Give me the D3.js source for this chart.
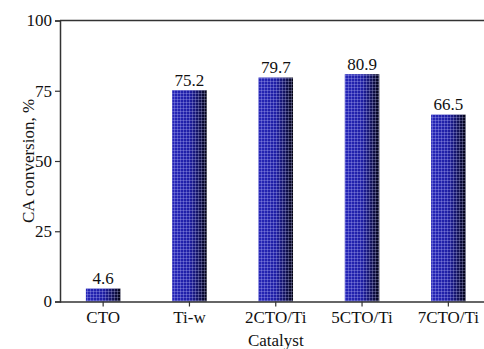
<!DOCTYPE html>
<html>
<head>
<meta charset="utf-8">
<script src="https://cdn.jsdelivr.net/npm/d3@7"></script>
<style>
  html, body { margin: 0; padding: 0; background: #fff; }
  svg { display: block; }
  svg text { font-family: "Liberation Serif", "Times New Roman", Times, "DejaVu Serif", serif !important; fill: #111; }
</style>
</head>
<body>
<script>
// Catalyst CA conversion data
const catalysts = ["CTO", "Ti-w", "2CTO/Ti", "5CTO/Ti", "7CTO/Ti"];
const conversion = [4.6, 75.2, 79.7, 80.9, 66.5];
const yTicks = [0, 25, 50, 75, 100];

const W = 484, H = 349;
const margin = { left: 60, top: 20.5, bottom: 301.5 };

const svg = d3.select("body").append("svg")
  .attr("width", W).attr("height", H);

const x = d3.scaleBand()
  .domain(catalysts)
  .range([margin.left, margin.left + 431.5])
  .paddingInner(0.6)
  .paddingOuter(0.3);

const y = d3.scaleLinear()
  .domain([0, 100])
  .range([margin.bottom, margin.top]);

// Bar fill: blue fading to near-black at the right edge, with a fine light grid
const defs = svg.append("defs");
const grad = defs.append("linearGradient")
  .attr("id", "barGrad").attr("x1", "0").attr("x2", "1").attr("y1", "0").attr("y2", "0");
grad.append("stop").attr("offset", "0").attr("stop-color", "#2626b8");
grad.append("stop").attr("offset", "0.5").attr("stop-color", "#1e1ea4");
grad.append("stop").attr("offset", "0.78").attr("stop-color", "#121258");
grad.append("stop").attr("offset", "1").attr("stop-color", "#030312");

const pat = defs.append("pattern")
  .attr("id", "gridPat").attr("patternUnits", "userSpaceOnUse")
  .attr("width", 3).attr("height", 3);
pat.append("path")
  .attr("d", "M0,0.5H3M0.5,0V3")
  .attr("stroke", "#c8c8ff").attr("stroke-opacity", 0.4).attr("stroke-width", 0.7)
  .attr("fill", "none");

const bars = svg.append("g");
bars.selectAll("rect.fill")
  .data(catalysts)
  .join("rect")
  .attr("class", "fill")
  .attr("x", d => x(d))
  .attr("y", (d, i) => y(conversion[i]))
  .attr("width", x.bandwidth())
  .attr("height", (d, i) => y(0) - y(conversion[i]))
  .attr("fill", "url(#barGrad)");
bars.selectAll("rect.grid")
  .data(catalysts)
  .join("rect")
  .attr("class", "grid")
  .attr("x", d => x(d))
  .attr("y", (d, i) => y(conversion[i]))
  .attr("width", x.bandwidth())
  .attr("height", (d, i) => y(0) - y(conversion[i]))
  .attr("fill", "url(#gridPat)");

// Value labels
svg.append("g").selectAll("text")
  .data(catalysts)
  .join("text")
  .attr("x", d => x(d) + x.bandwidth() / 2)
  .attr("y", (d, i) => y(conversion[i]) - 4.5)
  .attr("text-anchor", "middle")
  .attr("font-size", 17)
  .text((d, i) => conversion[i].toFixed(1));

// Axes
const yAxis = svg.append("g")
  .attr("transform", `translate(${margin.left},0)`)
  .call(d3.axisLeft(y).tickValues(yTicks).tickSize(5).tickPadding(3));
yAxis.selectAll("text").attr("font-size", 17);

const xAxis = svg.append("g")
  .attr("transform", `translate(0,${margin.bottom})`)
  .call(d3.axisBottom(x).tickSize(5).tickPadding(4).tickSizeOuter(0));
xAxis.selectAll("text").attr("font-size", 17);
xAxis.select(".domain").attr("d", `M${margin.left},0.5H${W}`);

[yAxis, xAxis].forEach(a => {
  a.attr("font-family", null);
  a.selectAll("line").attr("stroke", "#333").attr("stroke-width", 1.2);
  a.select(".domain").attr("stroke", "#333").attr("stroke-width", 1.5);
});

// Top frame line
svg.append("line")
  .attr("x1", margin.left).attr("x2", W)
  .attr("y1", margin.top).attr("y2", margin.top)
  .attr("stroke", "#333").attr("stroke-width", 1.5);

// Axis titles
svg.append("text")
  .attr("transform", `translate(34,${(margin.top + margin.bottom) / 2}) rotate(-90)`)
  .attr("text-anchor", "middle")
  .attr("font-size", 17)
  .text("CA conversion, %");

svg.append("text")
  .attr("x", x("2CTO/Ti") + x.bandwidth() / 2)
  .attr("y", 346)
  .attr("text-anchor", "middle")
  .attr("font-size", 17)
  .text("Catalyst");
</script>
</body>
</html>
